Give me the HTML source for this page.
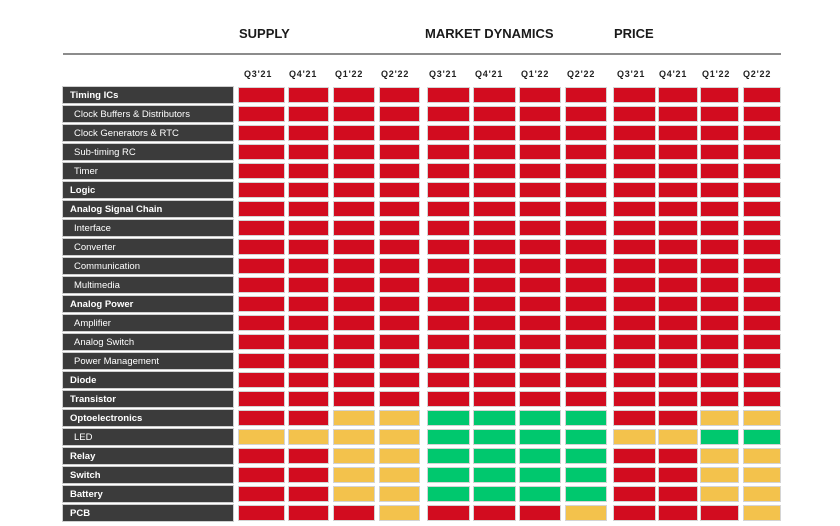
<!DOCTYPE html>
<html>
<head>
<meta charset="utf-8">
<style>
html,body{margin:0;padding:0;background:#fff;}
body{width:840px;height:526px;position:relative;overflow:hidden;font-family:"Liberation Sans",Arial,sans-serif;}
.t{position:absolute;font-weight:bold;font-size:13px;color:#1a1a1a;top:26px;white-space:nowrap;line-height:16px;}
.hl{position:absolute;left:63px;top:53px;width:718px;height:2px;background:#8c8c8c;}
.q{position:absolute;top:69px;font-size:9px;font-weight:bold;color:#222;letter-spacing:0.8px;line-height:11px;white-space:nowrap;}
.l{position:absolute;left:63px;width:170px;height:16px;background:#3b3b3b;color:#fff;font-size:9.5px;line-height:17px;box-sizing:border-box;white-space:nowrap;box-shadow:0 0 0 1px #cfcfcf;}
.l.b{font-weight:bold;padding-left:7px;}
.l.s{padding-left:11px;}
</style>
</head>
<body>
<div class="t" style="left:239px;">SUPPLY</div>
<div class="t" style="left:425px;">MARKET DYNAMICS</div>
<div class="t" style="left:614px;">PRICE</div>
<div class="hl"></div>

<div class="q" style="left:244px;">Q3'21</div>
<div class="q" style="left:289px;">Q4'21</div>
<div class="q" style="left:335px;">Q1'22</div>
<div class="q" style="left:381px;">Q2'22</div>
<div class="q" style="left:429px;">Q3'21</div>
<div class="q" style="left:475px;">Q4'21</div>
<div class="q" style="left:521px;">Q1'22</div>
<div class="q" style="left:567px;">Q2'22</div>
<div class="q" style="left:617px;">Q3'21</div>
<div class="q" style="left:659px;">Q4'21</div>
<div class="q" style="left:702px;">Q1'22</div>
<div class="q" style="left:743px;">Q2'22</div>

<div class="l b" style="top:87px;">Timing ICs</div>
<div class="l s" style="top:106px;">Clock Buffers &amp; Distributors</div>
<div class="l s" style="top:125px;">Clock Generators &amp; RTC</div>
<div class="l s" style="top:144px;">Sub-timing RC</div>
<div class="l s" style="top:163px;">Timer</div>
<div class="l b" style="top:182px;">Logic</div>
<div class="l b" style="top:201px;">Analog Signal Chain</div>
<div class="l s" style="top:220px;">Interface</div>
<div class="l s" style="top:239px;">Converter</div>
<div class="l s" style="top:258px;">Communication</div>
<div class="l s" style="top:277px;">Multimedia</div>
<div class="l b" style="top:296px;">Analog Power</div>
<div class="l s" style="top:315px;">Amplifier</div>
<div class="l s" style="top:334px;">Analog Switch</div>
<div class="l s" style="top:353px;">Power Management</div>
<div class="l b" style="top:372px;">Diode</div>
<div class="l b" style="top:391px;">Transistor</div>
<div class="l b" style="top:410px;">Optoelectronics</div>
<div class="l s" style="top:429px;">LED</div>
<div class="l b" style="top:448px;">Relay</div>
<div class="l b" style="top:467px;">Switch</div>
<div class="l b" style="top:486px;">Battery</div>
<div class="l b" style="top:505px;">PCB</div>

<svg width="840" height="526" style="position:absolute;left:0;top:0;" xmlns="http://www.w3.org/2000/svg">
<defs>
<g id="rowR">
<rect x="238.5" y="0.5" width="46" height="15" fill="#d20c1f" stroke="#d4d4d4"/>
<rect x="288.5" y="0.5" width="40" height="15" fill="#d20c1f" stroke="#d4d4d4"/>
<rect x="333.5" y="0.5" width="41" height="15" fill="#d20c1f" stroke="#d4d4d4"/>
<rect x="379.5" y="0.5" width="40" height="15" fill="#d20c1f" stroke="#d4d4d4"/>
<rect x="427.5" y="0.5" width="42" height="15" fill="#d20c1f" stroke="#d4d4d4"/>
<rect x="473.5" y="0.5" width="42" height="15" fill="#d20c1f" stroke="#d4d4d4"/>
<rect x="519.5" y="0.5" width="41" height="15" fill="#d20c1f" stroke="#d4d4d4"/>
<rect x="565.5" y="0.5" width="41" height="15" fill="#d20c1f" stroke="#d4d4d4"/>
<rect x="613.5" y="0.5" width="42" height="15" fill="#d20c1f" stroke="#d4d4d4"/>
<rect x="658.5" y="0.5" width="39" height="15" fill="#d20c1f" stroke="#d4d4d4"/>
<rect x="700.5" y="0.5" width="38" height="15" fill="#d20c1f" stroke="#d4d4d4"/>
<rect x="743.5" y="0.5" width="37" height="15" fill="#d20c1f" stroke="#d4d4d4"/>
</g>
<g id="rowA">
<rect x="238.5" y="0.5" width="46" height="15" fill="#d20c1f" stroke="#d4d4d4"/>
<rect x="288.5" y="0.5" width="40" height="15" fill="#d20c1f" stroke="#d4d4d4"/>
<rect x="333.5" y="0.5" width="41" height="15" fill="#f3c24c" stroke="#d4d4d4"/>
<rect x="379.5" y="0.5" width="40" height="15" fill="#f3c24c" stroke="#d4d4d4"/>
<rect x="427.5" y="0.5" width="42" height="15" fill="#00c86e" stroke="#d4d4d4"/>
<rect x="473.5" y="0.5" width="42" height="15" fill="#00c86e" stroke="#d4d4d4"/>
<rect x="519.5" y="0.5" width="41" height="15" fill="#00c86e" stroke="#d4d4d4"/>
<rect x="565.5" y="0.5" width="41" height="15" fill="#00c86e" stroke="#d4d4d4"/>
<rect x="613.5" y="0.5" width="42" height="15" fill="#d20c1f" stroke="#d4d4d4"/>
<rect x="658.5" y="0.5" width="39" height="15" fill="#d20c1f" stroke="#d4d4d4"/>
<rect x="700.5" y="0.5" width="38" height="15" fill="#f3c24c" stroke="#d4d4d4"/>
<rect x="743.5" y="0.5" width="37" height="15" fill="#f3c24c" stroke="#d4d4d4"/>
</g>
</defs>
<use href="#rowR" y="87"/>
<use href="#rowR" y="106"/>
<use href="#rowR" y="125"/>
<use href="#rowR" y="144"/>
<use href="#rowR" y="163"/>
<use href="#rowR" y="182"/>
<use href="#rowR" y="201"/>
<use href="#rowR" y="220"/>
<use href="#rowR" y="239"/>
<use href="#rowR" y="258"/>
<use href="#rowR" y="277"/>
<use href="#rowR" y="296"/>
<use href="#rowR" y="315"/>
<use href="#rowR" y="334"/>
<use href="#rowR" y="353"/>
<use href="#rowR" y="372"/>
<use href="#rowR" y="391"/>
<use href="#rowA" y="410"/>
<g transform="translate(0,429)">
<rect x="238.5" y="0.5" width="46" height="15" fill="#f3c24c" stroke="#d4d4d4"/>
<rect x="288.5" y="0.5" width="40" height="15" fill="#f3c24c" stroke="#d4d4d4"/>
<rect x="333.5" y="0.5" width="41" height="15" fill="#f3c24c" stroke="#d4d4d4"/>
<rect x="379.5" y="0.5" width="40" height="15" fill="#f3c24c" stroke="#d4d4d4"/>
<rect x="427.5" y="0.5" width="42" height="15" fill="#00c86e" stroke="#d4d4d4"/>
<rect x="473.5" y="0.5" width="42" height="15" fill="#00c86e" stroke="#d4d4d4"/>
<rect x="519.5" y="0.5" width="41" height="15" fill="#00c86e" stroke="#d4d4d4"/>
<rect x="565.5" y="0.5" width="41" height="15" fill="#00c86e" stroke="#d4d4d4"/>
<rect x="613.5" y="0.5" width="42" height="15" fill="#f3c24c" stroke="#d4d4d4"/>
<rect x="658.5" y="0.5" width="39" height="15" fill="#f3c24c" stroke="#d4d4d4"/>
<rect x="700.5" y="0.5" width="38" height="15" fill="#00c86e" stroke="#d4d4d4"/>
<rect x="743.5" y="0.5" width="37" height="15" fill="#00c86e" stroke="#d4d4d4"/>
</g>
<use href="#rowA" y="448"/>
<use href="#rowA" y="467"/>
<use href="#rowA" y="486"/>
<g transform="translate(0,505)">
<rect x="238.5" y="0.5" width="46" height="15" fill="#d20c1f" stroke="#d4d4d4"/>
<rect x="288.5" y="0.5" width="40" height="15" fill="#d20c1f" stroke="#d4d4d4"/>
<rect x="333.5" y="0.5" width="41" height="15" fill="#d20c1f" stroke="#d4d4d4"/>
<rect x="379.5" y="0.5" width="40" height="15" fill="#f3c24c" stroke="#d4d4d4"/>
<rect x="427.5" y="0.5" width="42" height="15" fill="#d20c1f" stroke="#d4d4d4"/>
<rect x="473.5" y="0.5" width="42" height="15" fill="#d20c1f" stroke="#d4d4d4"/>
<rect x="519.5" y="0.5" width="41" height="15" fill="#d20c1f" stroke="#d4d4d4"/>
<rect x="565.5" y="0.5" width="41" height="15" fill="#f3c24c" stroke="#d4d4d4"/>
<rect x="613.5" y="0.5" width="42" height="15" fill="#d20c1f" stroke="#d4d4d4"/>
<rect x="658.5" y="0.5" width="39" height="15" fill="#d20c1f" stroke="#d4d4d4"/>
<rect x="700.5" y="0.5" width="38" height="15" fill="#d20c1f" stroke="#d4d4d4"/>
<rect x="743.5" y="0.5" width="37" height="15" fill="#f3c24c" stroke="#d4d4d4"/>
</g>
</svg>
</body>
</html>
